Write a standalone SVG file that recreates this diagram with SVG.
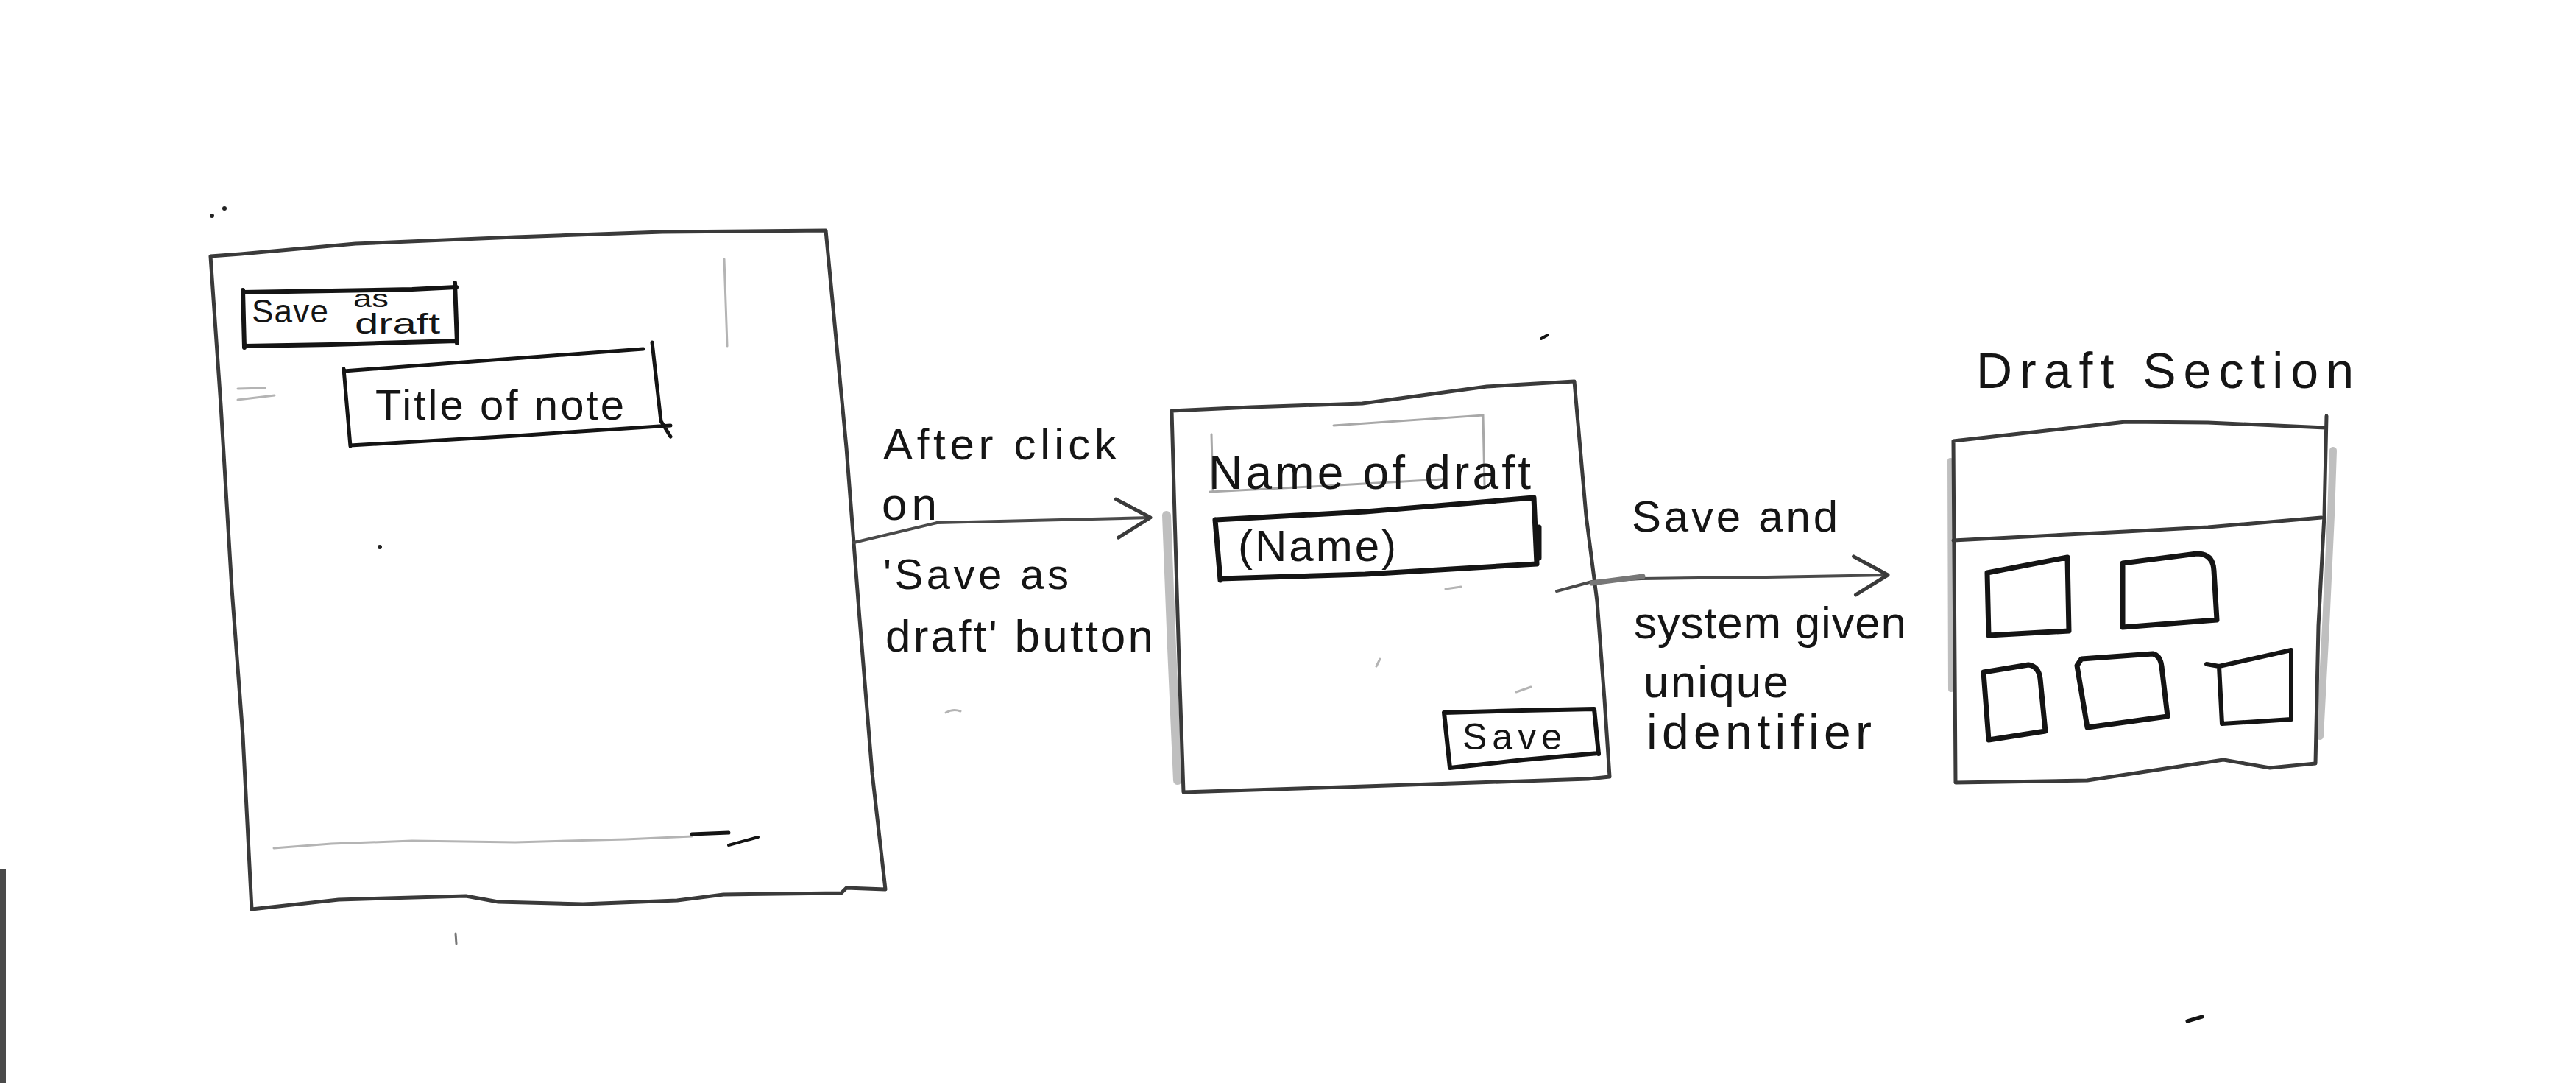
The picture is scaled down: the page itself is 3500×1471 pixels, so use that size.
<svg xmlns="http://www.w3.org/2000/svg" width="3500" height="1471" viewBox="0 0 3500 1471">
<style>
.frame{fill:none;stroke:#3a3a3a;stroke-width:5;stroke-linejoin:round;stroke-linecap:round}
.smudge{fill:none;stroke:#8a8a8a;stroke-width:12;stroke-linecap:round;opacity:0.55}
.ink{fill:none;stroke:#141414;stroke-width:7;stroke-linejoin:round;stroke-linecap:round}
.faint{fill:none;stroke:#b4b4b4;stroke-width:3;stroke-linecap:round}
.conn{fill:none;stroke:#4a4a4a;stroke-width:4;stroke-linecap:round;stroke-linejoin:round}
.txt{font-family:"Liberation Sans",Arial,sans-serif;fill:#151515}
.dot{fill:#222}
</style>
<defs>
<marker id="chev" markerUnits="userSpaceOnUse" viewBox="0 0 60 60" refX="50" refY="30" markerWidth="60" markerHeight="60" orient="auto">
<path d="M4,4 L50,30 L6,56" fill="none" stroke="#3a3a3a" stroke-width="5" stroke-linecap="round" stroke-linejoin="round"/>
</marker>
</defs>
<rect x="0" y="0" width="3500" height="1471" fill="#ffffff"/>
<rect x="0" y="1180" width="8" height="291" fill="#4a4a4a"/>

<!-- Node 1: note editor screen -->
<g id="node-editor">
<path class="frame" d="M286,348 L327,345 L483,331 L700,322 L900,315 L1122,313 L1150,608 L1168,841 L1185,1050 L1203,1208 L1150,1206 L1143,1213 L983,1215 L920,1223 L792,1228 L677,1225 L633,1217 L460,1222 L342,1235 L330,1000 L315,800 L300,550 Z"/>
<path class="faint" d="M372,1152 L450,1146 L560,1142 L700,1144 L850,1140 L940,1136"/>
<path class="ink" style="stroke-width:5" d="M940,1133 L990,1131"/>
<path class="ink" style="stroke-width:4" d="M990,1148 L1030,1137"/>
<path class="faint" d="M984,352 L988,470"/>
<path class="faint" d="M323,528 L360,527 M323,543 L373,537"/>
<!-- Save as draft button -->
<path class="ink" style="stroke-width:6" d="M330,394 L332,472 M330,397 L450,395 L560,393 L620,390 M618,384 L621,466 M332,470 L450,468 L550,465 L621,463"/>
<text class="txt" x="342" y="438" font-size="44" textLength="104" lengthAdjust="spacing">Save</text>
<text class="txt" x="480" y="417" font-size="34" textLength="48" lengthAdjust="spacingAndGlyphs">as</text>
<text class="txt" x="482" y="453" font-size="38" textLength="116" lengthAdjust="spacingAndGlyphs">draft</text>
<!-- Title of note box -->
<path class="ink" style="stroke-width:5" d="M467,501 L476,606 M467,504 L874,474 M886,465 L898,572 L911,593 M476,605 L700,592 L850,582 L911,578"/>
<text class="txt" x="510" y="570" font-size="58" textLength="338" lengthAdjust="spacing">Title of note</text>
<circle class="dot" cx="516" cy="743" r="3"/>
<circle class="dot" cx="288" cy="293" r="3"/>
<circle class="dot" cx="305" cy="283" r="3"/>
<path class="faint" style="stroke:#777" d="M619,1268 L620,1282"/>
</g>

<!-- Node 2: name-of-draft dialog -->
<g id="node-name-dialog">
<path class="smudge" d="M1585,700 L1592,880 L1600,1060"/>
<path class="frame" d="M1592,558 L1700,553 L1851,548 L2020,525 L2139,518 L2155,700 L2170,817 L2180,950 L2187,1055 L2158,1058 L1855,1068 L1608,1076 L1602,900 L1596,700 Z"/>
<path class="faint" style="stroke:#a8a8a8" d="M1812,578 L2015,564 L2017,660 M1644,668 L1800,660 L1960,651 M1646,590 L1648,668"/>
<text class="txt" x="1642" y="664" font-size="64" textLength="438" lengthAdjust="spacing">Name of draft</text>
<path class="ink" d="M1651,706 L1658,788 M1652,706 L1855,695 L2084,676 L2088,766 M2091,716 L2091,758 M1658,786 L1855,780 L2088,766"/>
<text class="txt" x="1682" y="762" font-size="60" textLength="215" lengthAdjust="spacing">(Name)</text>
<path class="ink" style="stroke-width:6" d="M1962,968 L1970,1043 M1962,968 L2068,965 L2166,963 L2172,1024 M1970,1043 L2070,1032 L2172,1023"/>
<text class="txt" x="1987" y="1018" font-size="50" textLength="135" lengthAdjust="spacing">Save</text>
<path class="faint" d="M1964,800 L1985,797 M2060,940 L2080,933 M1875,895 L1870,905"/>
</g>

<!-- Node 3: draft section -->
<g id="node-draft-section">
<text class="txt" x="2685" y="527" font-size="68" textLength="513" lengthAdjust="spacing">Draft Section</text>
<path class="smudge" style="stroke-width:8" d="M2650,626 L2651,936"/>
<path class="smudge" style="stroke-width:10" d="M3170,612 L3167,700 L3160,850 L3152,1000"/>
<path class="frame" d="M2654,599 L2780,585 L2888,573 L3000,574 L3160,581 M3161,565 L3158,700 L3150,850 L3146,1037 L3084,1043 L3021,1032 L2836,1060 L2657,1063 L2654,599"/>
<path class="frame" d="M2654,734 L2888,722 L3000,716 L3154,703"/>
<path class="ink" d="M2700,778 L2809,757 L2811,857 L2702,863 Z"/>
<path class="ink" d="M2884,765 L2985,752 Q3007,752 3008,775 L3012,842 L2884,852 Z"/>
<path class="ink" d="M2695,913 L2756,903 Q2770,905 2772,922 L2779,993 L2702,1005 Z"/>
<path class="ink" d="M2822,904 L2828,895 L2925,888 Q2935,890 2937,905 L2945,973 L2836,988 Z"/>
<path class="ink" style="stroke-width:6" d="M2998,902 L3015,905 L3113,883 L3113,977 L3019,983 L3015,905"/>
</g>

<!-- Connectors -->
<g id="connectors">
<path class="conn" marker-end="url(#chev)" d="M1160,737 L1273,710 L1400,707 L1563,703"/>
<text class="txt" x="1200" y="624" font-size="60" textLength="317" lengthAdjust="spacing">After click</text>
<text class="txt" x="1198" y="706" font-size="62" textLength="75" lengthAdjust="spacing" fill="#444">on</text>
<text class="txt" x="1200" y="800" font-size="58" textLength="252" lengthAdjust="spacing">'Save as</text>
<text class="txt" x="1203" y="885" font-size="62" textLength="364" lengthAdjust="spacing">draft' button</text>

<path class="conn" marker-end="url(#chev)" d="M2115,803 L2163,790 L2230,786 L2400,784 L2565,781"/>
<path class="conn" style="stroke:#777;stroke-width:7" d="M2163,792 L2232,783"/>
<text class="txt" x="2217" y="722" font-size="60" textLength="280" lengthAdjust="spacing">Save and</text>
<text class="txt" x="2220" y="867" font-size="62" textLength="370" lengthAdjust="spacing">system given</text>
<text class="txt" x="2233" y="947" font-size="62" textLength="197" lengthAdjust="spacing">unique</text>
<text class="txt" x="2237" y="1017" font-size="66" textLength="306" lengthAdjust="spacing">identifier</text>
</g>

<path class="ink" style="stroke-width:5" d="M2972,1387 L2992,1381"/>
<path class="ink" style="stroke-width:4" d="M2094,460 L2103,455"/>
<path class="faint" d="M1285,968 Q1295,962 1305,966"/>
</svg>
